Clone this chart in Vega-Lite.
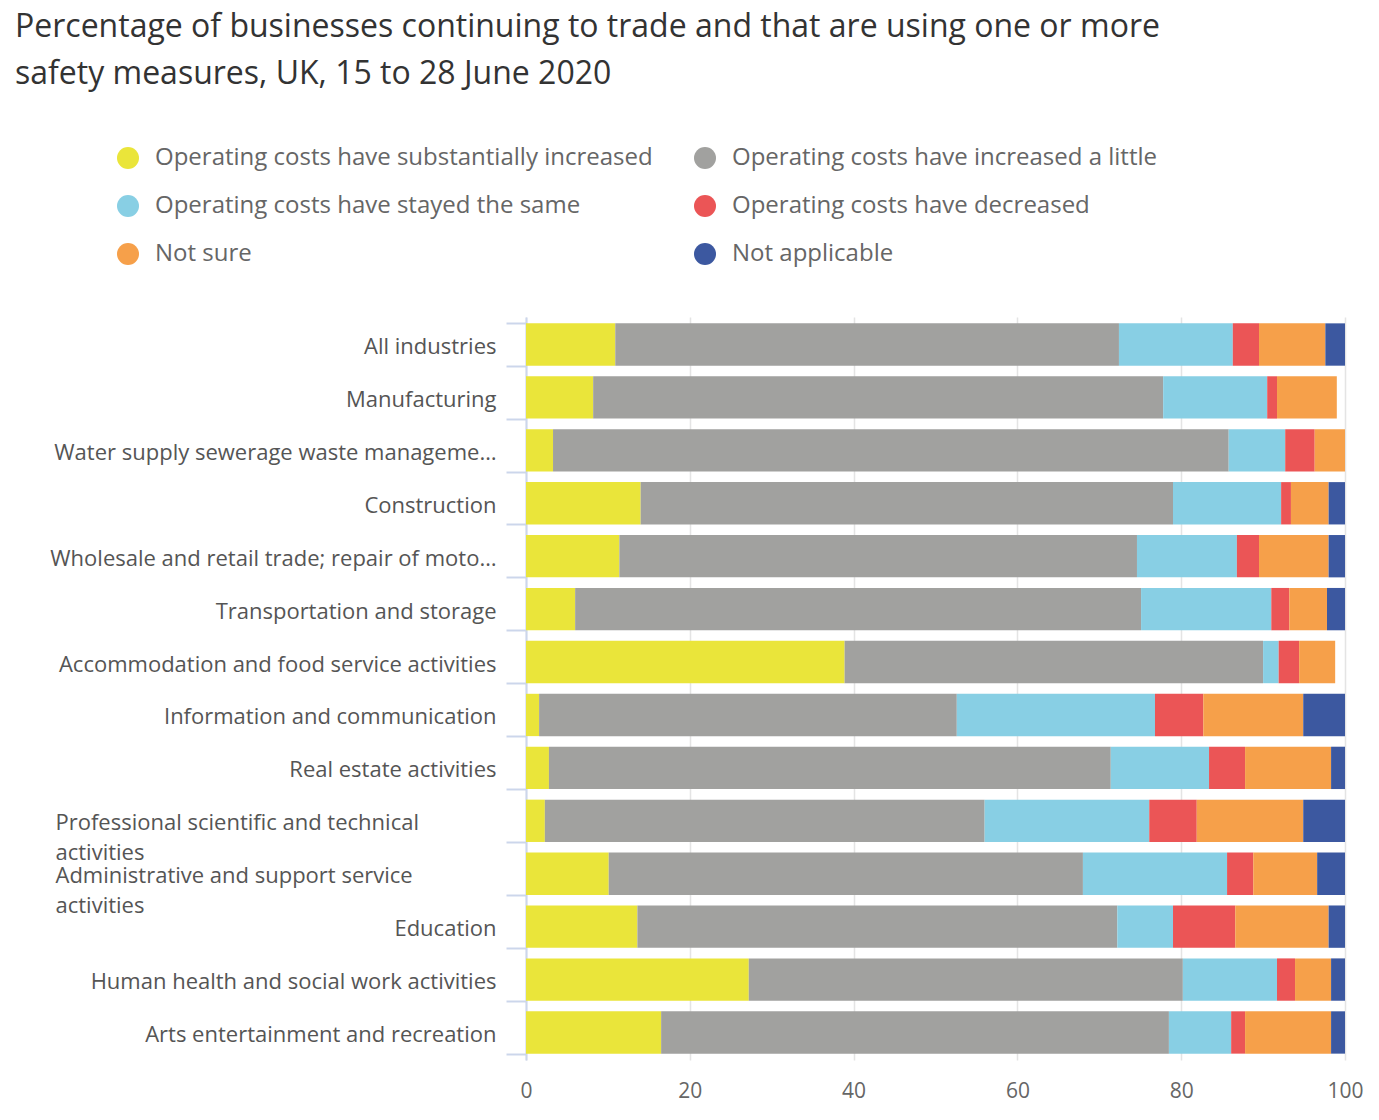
{
  "$schema": "https://vega.github.io/schema/vega-lite/v6.json",
  "width": 819,
  "height": 743,
  "autosize": {"type": "none"},
  "padding": {"left": 526, "top": 317, "right": 34, "bottom": 60},
  "background": "white",
  "title": {
    "text": ["Percentage of businesses continuing to trade and that are using one or more", "safety measures, UK, 15 to 28 June 2020"],
    "anchor": "start",
    "frame": "group",
    "dx": -511,
    "offset": 55,
    "font": "Open Sans",
    "fontSize": 32,
    "fontWeight": "normal",
    "color": "#333333",
    "lineHeight": 47
  },
  "data": {
    "values": [
      {"industry": "All industries", "category": "Operating costs have substantially increased", "value": 10.9},
      {"industry": "All industries", "category": "Operating costs have increased a little", "value": 61.5},
      {"industry": "All industries", "category": "Operating costs have stayed the same", "value": 13.9},
      {"industry": "All industries", "category": "Operating costs have decreased", "value": 3.2},
      {"industry": "All industries", "category": "Not sure", "value": 8.1},
      {"industry": "All industries", "category": "Not applicable", "value": 2.4},
      {"industry": "Manufacturing", "category": "Operating costs have substantially increased", "value": 8.2},
      {"industry": "Manufacturing", "category": "Operating costs have increased a little", "value": 69.6},
      {"industry": "Manufacturing", "category": "Operating costs have stayed the same", "value": 12.7},
      {"industry": "Manufacturing", "category": "Operating costs have decreased", "value": 1.2},
      {"industry": "Manufacturing", "category": "Not sure", "value": 7.3},
      {"industry": "Manufacturing", "category": "Not applicable", "value": 0},
      {"industry": "Water supply sewerage waste management and remediation activities", "category": "Operating costs have substantially increased", "value": 3.3},
      {"industry": "Water supply sewerage waste management and remediation activities", "category": "Operating costs have increased a little", "value": 82.5},
      {"industry": "Water supply sewerage waste management and remediation activities", "category": "Operating costs have stayed the same", "value": 6.9},
      {"industry": "Water supply sewerage waste management and remediation activities", "category": "Operating costs have decreased", "value": 3.6},
      {"industry": "Water supply sewerage waste management and remediation activities", "category": "Not sure", "value": 3.7},
      {"industry": "Water supply sewerage waste management and remediation activities", "category": "Not applicable", "value": 0},
      {"industry": "Construction", "category": "Operating costs have substantially increased", "value": 14.0},
      {"industry": "Construction", "category": "Operating costs have increased a little", "value": 65.0},
      {"industry": "Construction", "category": "Operating costs have stayed the same", "value": 13.2},
      {"industry": "Construction", "category": "Operating costs have decreased", "value": 1.2},
      {"industry": "Construction", "category": "Not sure", "value": 4.6},
      {"industry": "Construction", "category": "Not applicable", "value": 2.0},
      {"industry": "Wholesale and retail trade; repair of motor vehicles and motorcycles", "category": "Operating costs have substantially increased", "value": 11.4},
      {"industry": "Wholesale and retail trade; repair of motor vehicles and motorcycles", "category": "Operating costs have increased a little", "value": 63.2},
      {"industry": "Wholesale and retail trade; repair of motor vehicles and motorcycles", "category": "Operating costs have stayed the same", "value": 12.2},
      {"industry": "Wholesale and retail trade; repair of motor vehicles and motorcycles", "category": "Operating costs have decreased", "value": 2.7},
      {"industry": "Wholesale and retail trade; repair of motor vehicles and motorcycles", "category": "Not sure", "value": 8.5},
      {"industry": "Wholesale and retail trade; repair of motor vehicles and motorcycles", "category": "Not applicable", "value": 2.0},
      {"industry": "Transportation and storage", "category": "Operating costs have substantially increased", "value": 6.0},
      {"industry": "Transportation and storage", "category": "Operating costs have increased a little", "value": 69.1},
      {"industry": "Transportation and storage", "category": "Operating costs have stayed the same", "value": 15.9},
      {"industry": "Transportation and storage", "category": "Operating costs have decreased", "value": 2.2},
      {"industry": "Transportation and storage", "category": "Not sure", "value": 4.6},
      {"industry": "Transportation and storage", "category": "Not applicable", "value": 2.2},
      {"industry": "Accommodation and food service activities", "category": "Operating costs have substantially increased", "value": 38.9},
      {"industry": "Accommodation and food service activities", "category": "Operating costs have increased a little", "value": 51.1},
      {"industry": "Accommodation and food service activities", "category": "Operating costs have stayed the same", "value": 1.9},
      {"industry": "Accommodation and food service activities", "category": "Operating costs have decreased", "value": 2.5},
      {"industry": "Accommodation and food service activities", "category": "Not sure", "value": 4.4},
      {"industry": "Accommodation and food service activities", "category": "Not applicable", "value": 0},
      {"industry": "Information and communication", "category": "Operating costs have substantially increased", "value": 1.6},
      {"industry": "Information and communication", "category": "Operating costs have increased a little", "value": 51.0},
      {"industry": "Information and communication", "category": "Operating costs have stayed the same", "value": 24.2},
      {"industry": "Information and communication", "category": "Operating costs have decreased", "value": 5.9},
      {"industry": "Information and communication", "category": "Not sure", "value": 12.2},
      {"industry": "Information and communication", "category": "Not applicable", "value": 5.1},
      {"industry": "Real estate activities", "category": "Operating costs have substantially increased", "value": 2.8},
      {"industry": "Real estate activities", "category": "Operating costs have increased a little", "value": 68.6},
      {"industry": "Real estate activities", "category": "Operating costs have stayed the same", "value": 12.0},
      {"industry": "Real estate activities", "category": "Operating costs have decreased", "value": 4.4},
      {"industry": "Real estate activities", "category": "Not sure", "value": 10.5},
      {"industry": "Real estate activities", "category": "Not applicable", "value": 1.7},
      {"industry": "Professional scientific and technical activities", "category": "Operating costs have substantially increased", "value": 2.3},
      {"industry": "Professional scientific and technical activities", "category": "Operating costs have increased a little", "value": 53.7},
      {"industry": "Professional scientific and technical activities", "category": "Operating costs have stayed the same", "value": 20.1},
      {"industry": "Professional scientific and technical activities", "category": "Operating costs have decreased", "value": 5.8},
      {"industry": "Professional scientific and technical activities", "category": "Not sure", "value": 13.0},
      {"industry": "Professional scientific and technical activities", "category": "Not applicable", "value": 5.1},
      {"industry": "Administrative and support service activities", "category": "Operating costs have substantially increased", "value": 10.1},
      {"industry": "Administrative and support service activities", "category": "Operating costs have increased a little", "value": 57.9},
      {"industry": "Administrative and support service activities", "category": "Operating costs have stayed the same", "value": 17.6},
      {"industry": "Administrative and support service activities", "category": "Operating costs have decreased", "value": 3.2},
      {"industry": "Administrative and support service activities", "category": "Not sure", "value": 7.8},
      {"industry": "Administrative and support service activities", "category": "Not applicable", "value": 3.4},
      {"industry": "Education", "category": "Operating costs have substantially increased", "value": 13.6},
      {"industry": "Education", "category": "Operating costs have increased a little", "value": 58.6},
      {"industry": "Education", "category": "Operating costs have stayed the same", "value": 6.8},
      {"industry": "Education", "category": "Operating costs have decreased", "value": 7.6},
      {"industry": "Education", "category": "Not sure", "value": 11.4},
      {"industry": "Education", "category": "Not applicable", "value": 2.0},
      {"industry": "Human health and social work activities", "category": "Operating costs have substantially increased", "value": 27.2},
      {"industry": "Human health and social work activities", "category": "Operating costs have increased a little", "value": 53.0},
      {"industry": "Human health and social work activities", "category": "Operating costs have stayed the same", "value": 11.5},
      {"industry": "Human health and social work activities", "category": "Operating costs have decreased", "value": 2.2},
      {"industry": "Human health and social work activities", "category": "Not sure", "value": 4.4},
      {"industry": "Human health and social work activities", "category": "Not applicable", "value": 1.7},
      {"industry": "Arts entertainment and recreation", "category": "Operating costs have substantially increased", "value": 16.5},
      {"industry": "Arts entertainment and recreation", "category": "Operating costs have increased a little", "value": 62.0},
      {"industry": "Arts entertainment and recreation", "category": "Operating costs have stayed the same", "value": 7.6},
      {"industry": "Arts entertainment and recreation", "category": "Operating costs have decreased", "value": 1.7},
      {"industry": "Arts entertainment and recreation", "category": "Not sure", "value": 10.5},
      {"industry": "Arts entertainment and recreation", "category": "Not applicable", "value": 1.7}
    ]
  },
  "transform": [
    {"window": [{"op": "row_number", "as": "stackRank"}], "groupby": ["industry"]}
  ],
  "mark": {"type": "bar"},
  "encoding": {
    "y": {
      "field": "industry",
      "type": "nominal",
      "sort": ["All industries", "Manufacturing", "Water supply sewerage waste management and remediation activities", "Construction", "Wholesale and retail trade; repair of motor vehicles and motorcycles", "Transportation and storage", "Accommodation and food service activities", "Information and communication", "Real estate activities", "Professional scientific and technical activities", "Administrative and support service activities", "Education", "Human health and social work activities", "Arts entertainment and recreation"],
      "scale": {"paddingInner": 0.2, "paddingOuter": 0.12},
      "axis": {
        "title": null,
        "domainColor": "#ccd6eb",
        "domainWidth": 2,
        "tickColor": "#ccd6eb",
        "tickWidth": 2,
        "tickSize": 20,
        "tickBand": "extent",
        "labelFont": "Open Sans",
        "labelFontSize": 22,
        "labelColor": "#555555",
        "labelLimit": 450,
        "labelLineHeight": 30,
        "labelOffset": 2,
        "labelExpr": "datum.value == 'Professional scientific and technical activities' ? ['Professional scientific and technical', 'activities'] : datum.value == 'Administrative and support service activities' ? ['Administrative and support service', 'activities'] : datum.value",
        "labelAlign": {"condition": {"test": "datum.value == 'Professional scientific and technical activities' || datum.value == 'Administrative and support service activities'", "value": "left"}, "value": "right"},
        "labelPadding": {"condition": {"test": "datum.value == 'Professional scientific and technical activities' || datum.value == 'Administrative and support service activities'", "value": 451}, "value": 10},
        "grid": false
      }
    },
    "x": {
      "field": "value",
      "type": "quantitative",
      "stack": "zero",
      "scale": {"domain": [0, 100], "nice": false},
      "axis": {
        "title": null,
        "values": [0, 20, 40, 60, 80, 100],
        "domain": false,
        "ticks": false,
        "grid": true,
        "gridColor": "#e4e4e4",
        "gridWidth": 1.5,
        "labelFlush": false,
        "labelFont": "Open Sans",
        "labelFontSize": 21,
        "labelColor": "#666666",
        "labelPadding": 20
      }
    },
    "order": {"field": "stackRank", "type": "quantitative", "sort": "ascending"},
    "color": {
      "field": "category",
      "type": "nominal",
      "scale": {
        "domain": ["Operating costs have substantially increased", "Operating costs have increased a little", "Operating costs have stayed the same", "Operating costs have decreased", "Not sure", "Not applicable"],
        "range": ["#EAE53A", "#A1A19F", "#88CFE4", "#EB5556", "#F6A04A", "#3C58A0"]
      },
      "legend": {
        "title": null,
        "orient": "none",
        "legendX": -410,
        "legendY": -171,
        "direction": "horizontal",
        "columns": 2,
        "columnPadding": 40,
        "rowPadding": 24,
        "padding": 0,
        "symbolType": "circle",
        "symbolSize": 484,
        "symbolStrokeWidth": 0,
        "symbolOpacity": 1,
        "labelFont": "Open Sans",
        "labelFontSize": 24,
        "labelColor": "#666666",
        "labelOffset": 15,
        "labelLimit": 0
      }
    }
  },
  "config": {"view": {"stroke": null}}
}
